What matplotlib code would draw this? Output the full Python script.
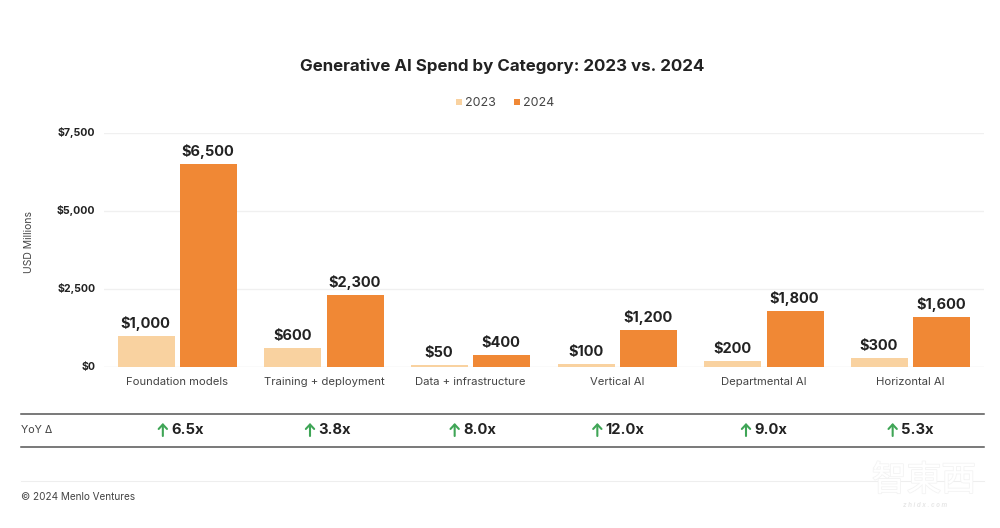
import matplotlib
matplotlib.use("Agg")
import matplotlib.pyplot as plt
import matplotlib.patheffects as pe
from matplotlib.lines import Line2D
from matplotlib.patches import Rectangle, FancyArrowPatch
import numpy as np

categories = ["Foundation models", "Training + deployment", "Data + infrastructure",
              "Vertical AI", "Departmental AI", "Horizontal AI"]
spend_2023 = [1000, 600, 50, 100, 200, 300]
spend_2024 = [6500, 2300, 400, 1200, 1800, 1600]
yoy_labels = ["6.5x", "3.8x", "8.0x", "12.0x", "9.0x", "5.3x"]
y_ticks = [0, 2500, 5000, 7500]

C23, C24 = "#F9D2A0", "#F08835"
DARK, GREY, GREEN = "#222222", "#444444", "#3FA556"
W, H = 1000, 528
plt.rcParams['font.family'] = ['Inter', 'DejaVu Sans']

fig = plt.figure(figsize=(W/100, H/100), dpi=100, facecolor="white")
def fx(p): return p / W
def fy(p): return 1 - p / H

ax = fig.add_axes([fx(104), fy(367), fx(984 - 104), (367 - 133) / H])
x = np.arange(len(categories))
bw = 0.388
off = 0.212
ax.bar(x - off, spend_2023, bw, color=C23, zorder=3)
ax.bar(x + off, spend_2024, bw, color=C24, zorder=3)
for i, (a, b) in enumerate(zip(spend_2023, spend_2024)):
    ax.annotate(f"${a:,}", (i - off, a), xytext=(-0.5, 3.6), textcoords="offset points",
                ha="center", va="bottom", fontsize=10.5, fontweight="bold", color=DARK, zorder=4)
    ax.annotate(f"${b:,}", (i + off, b), xytext=(-0.5, 3.6), textcoords="offset points",
                ha="center", va="bottom", fontsize=10.5, fontweight="bold", color=DARK, zorder=4)
ax.set_xlim(-0.5, 5.5)
ax.set_ylim(0, 7500)
ax.set_yticks(y_ticks)
ax.set_yticklabels([f"${v:,}" for v in y_ticks], fontsize=7.6, fontweight="bold", color=DARK)
ax.set_xticks(x)
ax.set_xticklabels(categories, fontsize=8.1, color=GREY)
ax.tick_params(length=0)
ax.tick_params(axis="x", pad=7)
ax.tick_params(axis="y", pad=6.2)
for lbl in ax.get_yticklabels():
    lbl.set_verticalalignment("center")
ax.grid(axis="y", color="#F0F0F0", lw=1, zorder=0)
ax.set_axisbelow(True)
for s in ax.spines.values():
    s.set_visible(False)
ax.axhline(0, color="#DDDDDD", lw=0.8, zorder=2)
fig.text(fx(29), fy(242), "USD Millions", rotation=90, ha="center", va="center",
         fontsize=7.5, color=GREY)

fig.text(fx(502.5), fy(66), "Generative AI Spend by Category: 2023 vs. 2024", ha="center",
         va="center", fontsize=12.2, fontweight="bold", color=DARK)

# legend
for px, col, lab in [(456, C23, "2023"), (514, C24, "2024")]:
    fig.add_artist(Rectangle((fx(px), fy(105)), 6 / W, 6 / H, color=col, lw=0,
                             transform=fig.transFigure))
    fig.text(fx(px + 8.5), fy(102.5), lab, ha="left", va="center", fontsize=9, color=GREY)

# YoY table
for py, c, lw in [(413.5, "#555555", 1.1), (446.5, "#555555", 1.1), (481, "#EEEEEE", 0.8)]:
    fig.add_artist(Line2D([fx(21), fx(984)], [fy(py), fy(py)], color=c, lw=lw,
                          transform=fig.transFigure))
fig.text(fx(21), fy(430), "YoY Δ", ha="left", va="center", fontsize=7.8, color=GREY)
centers = ax.transData.transform(np.column_stack([x, np.zeros_like(x)]))[:, 0]
arrow_offsets = [-14.5, -14, -16, -20, -18, -18]
for cx, lab, dx in zip(centers, yoy_labels, arrow_offsets):
    left = cx + dx
    fig.add_artist(FancyArrowPatch(
        (fx(left), fy(436)), (fx(left), fy(423)), transform=fig.transFigure,
        arrowstyle="->,head_length=3.2,head_width=3", lw=1.5, color=GREEN,
        shrinkA=0, shrinkB=0, mutation_scale=1))
    fig.text(fx(left + 8.5), fy(429.5), lab, ha="left", va="center", fontsize=10.6,
             fontweight="bold", color=DARK)

fig.text(fx(21), fy(496.5), "© 2024 Menlo Ventures", ha="left", va="center",
         fontsize=7.2, color=GREY)
wm = fig.text(fx(924), fy(481), "智東西", ha="center", va="center", fontsize=25, color="white",
              family=['Noto Sans CJK TC', 'DejaVu Sans'], zorder=5)
wm.set_path_effects([pe.withStroke(linewidth=1.2, foreground="#F3F3F3")])
fig.text(fx(925), fy(505), "z h i d x . c o m", ha="center", va="center", fontsize=4.5,
         color="#E8E8E8", fontweight="bold", style="italic")
fig.savefig("out.png", dpi=100, facecolor="white")
